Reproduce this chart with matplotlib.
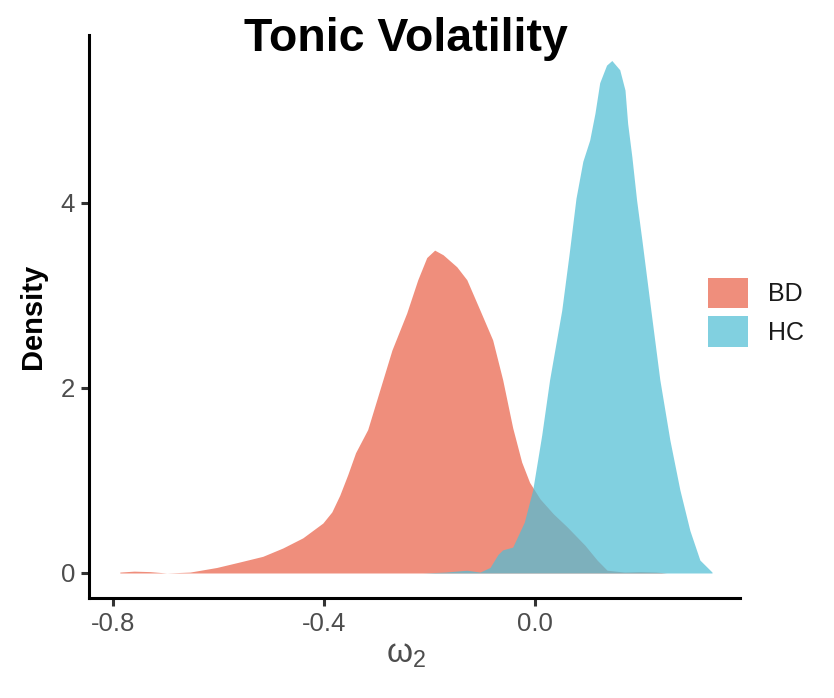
import matplotlib
matplotlib.use('Agg')
import matplotlib.pyplot as plt
from matplotlib.patches import Patch

# density curves
bd_x = [-0.787, -0.76, -0.73, -0.698, -0.654, -0.603, -0.559, -0.516, -0.478, -0.44,
        -0.402, -0.385, -0.37, -0.355, -0.34, -0.317, -0.294, -0.271, -0.243, -0.222,
        -0.205, -0.19, -0.174, -0.148, -0.129, -0.104, -0.08, -0.061, -0.042, -0.025,
        -0.01, 0.01, 0.035, 0.061, 0.095, 0.118, 0.137, 0.17, 0.2, 0.23, 0.25]
bd_y = [0.01, 0.02, 0.015, 0.0, 0.01, 0.06, 0.12, 0.18, 0.27, 0.38,
        0.54, 0.66, 0.84, 1.06, 1.3, 1.55, 1.98, 2.41, 2.81, 3.17,
        3.41, 3.49, 3.44, 3.31, 3.17, 2.84, 2.52, 2.09, 1.57, 1.2,
        0.98, 0.8, 0.64, 0.5, 0.3, 0.14, 0.03, 0.01, 0.015, 0.01, 0.0]

hc_x = [-0.212, -0.17, -0.129, -0.104, -0.085, -0.07, -0.061, -0.042, -0.02, -0.004,
        0.013, 0.028, 0.051, 0.065, 0.078, 0.091, 0.104, 0.114, 0.123, 0.136,
        0.146, 0.161, 0.171, 0.176, 0.184, 0.193, 0.203, 0.22, 0.237, 0.256,
        0.275, 0.294, 0.313, 0.336]
hc_y = [0.0, 0.01, 0.03, 0.01, 0.06, 0.2, 0.25, 0.28, 0.55, 0.90,
        1.49, 2.09, 2.84, 3.45, 4.05, 4.45, 4.68, 4.97, 5.3, 5.49,
        5.54, 5.44, 5.22, 4.86, 4.5, 4.03, 3.6, 2.84, 2.09, 1.44,
        0.90, 0.46, 0.14, 0.01]

groups = ['BD', 'HC']
colors = ['#EA6249', '#51BED5']
x_ticks = [-0.8, -0.4, 0.0]
x_ticklabels = ['-0.8', '-0.4', '0.0']
y_ticks = [0, 2, 4]

plt.rcParams['font.family'] = ['Liberation Sans', 'DejaVu Sans']

fig = plt.figure(figsize=(8.34, 6.98), dpi=100)
ax = fig.add_axes([0.1067, 0.1433, 0.887 - 0.1067, 0.9499 - 0.1433])

ax.fill_between(bd_x, bd_y, 0, color=colors[0], alpha=0.72, linewidth=0)
ax.fill_between(hc_x, hc_y, 0, color=colors[1], alpha=0.72, linewidth=0)

ax.set_xlim(-0.8455, 0.3886)
ax.set_ylim(-0.27, 5.816)
ax.set_xticks(x_ticks)
ax.set_xticklabels(x_ticklabels)
ax.set_yticks(y_ticks)

for side in ['top', 'right']:
    ax.spines[side].set_visible(False)
for side in ['left', 'bottom']:
    ax.spines[side].set_linewidth(2.2)
    ax.spines[side].set_color('black')
ax.tick_params(axis='both', length=6, width=2.2, color='#333333',
               labelsize=18.5, labelcolor='#4D4D4D', pad=4)

ax.set_ylabel('Density', fontsize=21, fontweight='bold', labelpad=10)
fig.text(0.487, 0.04, r'$\mathregular{\omega_2}$', fontsize=24, color='#4D4D4D',
         ha='center', va='bottom')
fig.text(0.487, 0.975, 'Tonic Volatility', fontsize=33.5, fontweight='bold',
         ha='center', va='top')

handles = [Patch(facecolor=c, alpha=0.72, edgecolor='none') for c in colors]
fig.legend(handles, groups, loc='upper left', bbox_to_anchor=(0.849, 0.602),
           frameon=False, fontsize=18, handlelength=1.6, handleheight=1.5,
           handletextpad=0.8, labelspacing=0.32, borderpad=0, borderaxespad=0,
           labelcolor='#1A1A1A')

fig.savefig('out.png', dpi=100)
